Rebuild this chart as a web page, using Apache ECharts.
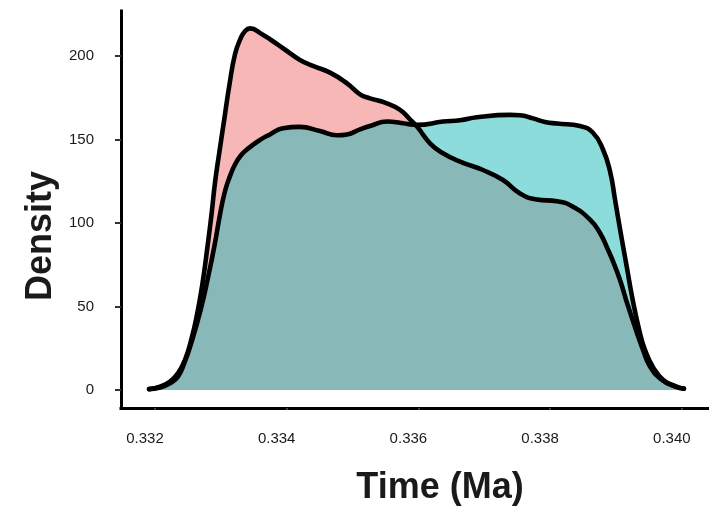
<!DOCTYPE html>
<html>
<head>
<meta charset="utf-8">
<script src="https://cdn.jsdelivr.net/npm/echarts@6/dist/echarts.min.js"></script>
<style>
html,body{margin:0;padding:0;background:#fff;}
#chart{width:709px;height:512px;}
</style>
</head>
<body>
<div id="chart"></div>
<script>
// Group 1 (red / pink density)
const redTime = [0.331909,0.332076,0.332228,0.332349,0.332456,0.332557,0.332638,0.332722,0.332798,0.332861,0.332911,0.332976,0.333052,0.333128,0.333215,0.333301,0.333367,0.333443,0.333625,0.333746,0.333944,0.334202,0.334399,0.334658,0.334916,0.335113,0.335265,0.335493,0.335721,0.335872,0.335979,0.336176,0.336374,0.336632,0.336981,0.337285,0.337543,0.337801,0.338105,0.338333,0.338606,0.338758,0.338879,0.338986,0.339077,0.339153,0.339320,0.339411,0.339517,0.339699,0.339897,0.340033];
const redDensity = [0.5,2,5,10,18,31,45,64,86,106,124,142,162,182,201,210.5,214.8,216.5,213,210,204.6,197.6,194,190,183.6,177,174.6,172,167.7,162,157.7,147.7,141.7,136.7,131.7,125.7,117.7,114,113,110,102,94,84,74,64,54,34,24,14,6,2,0.8];
// Group 2 (cyan density)
const cyanTime = [0.331909,0.332076,0.332228,0.332349,0.332445,0.332542,0.332694,0.332809,0.332911,0.332987,0.333063,0.333139,0.333215,0.333306,0.333412,0.333595,0.333746,0.333944,0.334202,0.334506,0.334764,0.334916,0.335113,0.335265,0.335523,0.335766,0.335979,0.336374,0.336632,0.336890,0.337391,0.337543,0.337740,0.337923,0.338105,0.338454,0.338651,0.338803,0.338910,0.338986,0.339072,0.339163,0.339254,0.339365,0.339441,0.339558,0.339719,0.339922,0.340033];
const cyanDensity = [0.5,1.5,4,8,16,27,48,68,88,105,119,128,135,140.5,144.5,149.7,153,156.7,157.5,155,152.5,153,156,158,160.7,159.7,158.7,160.7,161.5,163.3,164.7,164.5,162.6,160.5,159.5,158,154,144,131,114,94,74,54,34,24,14,6,2,0.8];
// Axis tick values
const xTicks = [0.332, 0.334, 0.336, 0.338, 0.340];
const yTicks = [0, 50, 100, 150, 200];

const pairs = (xs, ys) => xs.map((x, i) => [x, ys[i]]);
const redData = pairs(redTime, redDensity);
const cyanData = pairs(cyanTime, cyanDensity);

const chart = echarts.init(document.getElementById('chart'), null, {renderer: 'canvas'});
const FONT = "'Liberation Sans', Arial, Helvetica, sans-serif";
const SMOOTH = 0.5;

function areaSeries(data, color) {
  return {
    type: 'line', data: data, smooth: SMOOTH,
    showSymbol: false, silent: true,
    lineStyle: {width: 0, opacity: 0},
    areaStyle: {color: color, opacity: 0.5},
    z: 2
  };
}
function lineSeries(data) {
  return {
    type: 'line', data: data, smooth: SMOOTH,
    showSymbol: false, silent: true,
    lineStyle: {width: 4.6, color: '#000', cap: 'round', join: 'round'},
    z: 5
  };
}

chart.setOption({
  animation: false,
  backgroundColor: '#ffffff',
  grid: {left: 121, right: 0, top: 11, bottom: 104, containLabel: false},
  xAxis: {
    type: 'value', min: 0.331484, max: 0.340413,
    splitLine: {show: false},
    axisLine: {show: true, onZero: false, lineStyle: {color: '#000', width: 3, cap: 'square'}},
    axisTick: {show: true, customValues: xTicks, length: 2, lineStyle: {color: '#555', width: 1.5}},
    axisLabel: {
      customValues: xTicks, margin: 23, padding: [0, 20, 0, 0],
      formatter: v => v.toFixed(3),
      color: '#1a1a1a', fontSize: 15, fontFamily: FONT
    }
  },
  yAxis: {
    type: 'value', min: -10.8, max: 226.9,
    splitLine: {show: false},
    axisLine: {show: true, onZero: false, lineStyle: {color: '#000', width: 3, cap: 'square'}},
    axisTick: {show: true, customValues: yTicks, length: 6, lineStyle: {color: '#333', width: 2}},
    axisLabel: {
      customValues: yTicks, margin: 27,
      color: '#1a1a1a', fontSize: 15, fontFamily: FONT
    }
  },
  graphic: [
    {type: 'text', x: 440, y: 488, silent: true,
     style: {text: 'Time (Ma)', fill: '#1a1a1a', font: "bold 36px " + FONT, textAlign: 'center', textVerticalAlign: 'middle'}},
    {type: 'text', x: 41, y: 236, rotation: Math.PI / 2, silent: true,
     style: {text: 'Density', fill: '#1a1a1a', font: "bold 36px " + FONT, textAlign: 'center', textVerticalAlign: 'middle'}}
  ],
  series: [
    areaSeries(redData, '#EF6F6D'),
    areaSeries(cyanData, '#1CB9BA'),
    lineSeries(redData),
    lineSeries(cyanData)
  ]
});
</script>
</body>
</html>
